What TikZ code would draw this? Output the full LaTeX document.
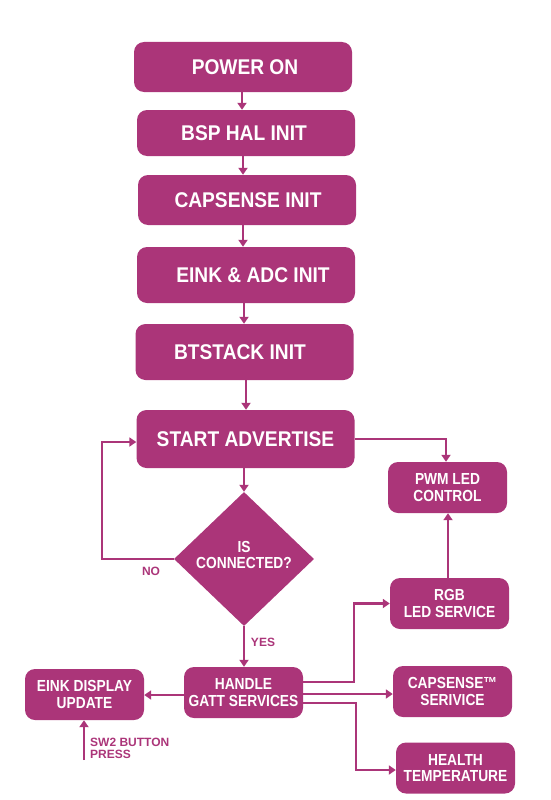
\documentclass[tikz,border=0pt]{standalone}
\usepackage{fontspec}
\setmainfont{Liberation Sans}
\newfontfamily\cfont{Liberation Sans}[FakeStretch=0.9]
\newfontfamily\sfont{Liberation Sans}[FakeStretch=0.86]
\usetikzlibrary{arrows.meta,shapes.geometric,calc}
\definecolor{mag}{RGB}{171,53,121}
\begin{document}
\begin{tikzpicture}[x=1pt,y=-1pt,
  big/.style={fill=mag, rounded corners=10pt, text=white, font=\cfont\bfseries\fontsize{21.3}{22}\selectfont, minimum width=218pt, inner sep=0pt},
  small/.style={fill=mag, rounded corners=10pt, text=white, font=\sfont\bfseries\fontsize{16}{16.5}\selectfont, align=center, minimum width=119pt, minimum height=51pt, inner sep=0pt},
  conn/.style={draw=mag, line width=2.1pt, -{Triangle[length=7pt,width=9pt]}},
  lbl/.style={text=mag, font=\bfseries\fontsize{12}{12}\selectfont}]
\useasboundingbox (0,0) rectangle (550,800);
% main column
\node[big, minimum height=50pt] (pwr) at (243,67) {\hspace*{4pt}POWER ON};
\node[big, minimum height=46pt] (bsp) at (246,133) {BSP HAL INIT\hspace*{4pt}};
\node[big, minimum height=50pt] (cap) at (247,200) {\hspace*{2pt}CAPSENSE INIT};
\node[big, minimum height=56pt] (eink) at (246,275) {\hspace*{14pt}EINK \& ADC INIT};
\node[big, minimum height=56pt] (bt) at (244.5,352) {BTSTACK INIT\hspace*{9pt}};
\node[big, minimum height=58pt] (adv) at (245.5,439) {START ADVERTISE};
\node[diamond, fill=mag, minimum width=140pt, minimum height=134pt, inner sep=0pt] (dec) at (244,559) {};
\node[text=white, font=\sfont\bfseries\fontsize{16}{16}\selectfont, align=center, inner sep=0pt] (dect) at (244,555) {IS\\CONNECTED?};
% side boxes
\node[small] (pwm) at (447.5,487.5) {PWM LED\\CONTROL};
\node[small] (rgb) at (449.5,603.5) {RGB\\LED SERVICE};
\node[small] (cs) at (452.5,691.5) {CAPSENSE™\\SERIVICE};
\node[small] (ht) at (455.5,768) {HEALTH\\TEMPERATURE};
\node[small] (hg) at (243.5,692.5) {HANDLE\\GATT SERVICES};
\node[small] (edu) at (84.5,694.5) {EINK DISPLAY\\UPDATE};
% labels
\node[lbl] (no) at (151,571) {NO};
\node[lbl] (yes) at (263,642) {YES};
\node[lbl, align=left, anchor=west, inner sep=0pt] (swl) at (90,748) {SW2 BUTTON\\PRESS};
% connectors
\draw[conn] (pwr.south -| 242,0) -- (bsp.north -| 242,0);
\draw[conn] (bsp.south -| 243,0) -- (cap.north -| 243,0);
\draw[conn] (cap.south -| 243,0) -- (eink.north -| 243,0);
\draw[conn] (eink.south -| 244,0) -- (bt.north -| 244,0);
\draw[conn] (bt.south -| 246,0) -- (adv.north -| 246,0);
\draw[conn] (adv.south -| 244,0) -- (dec.north);
\draw[conn] (dec.west) -- (102,559) |- (adv.west |- 0,442);
\draw[conn] (adv.east |- 0,439) -| (pwm.north -| 446,0);
\draw[conn] (rgb.north -| 448,0) -- (pwm.south -| 448,0);
\draw[conn] (dec.south) -- (dec.south |- hg.north);
\draw[conn] (hg.west |- 0,695) -- (edu.east |- 0,695);
\coordinate (sw) at (84,760);
\draw[conn] (sw) -- (sw |- edu.south);
\draw[conn] (hg.east |- 0,682) -- (354,682) |- (rgb.west);
\draw[conn] (hg.east |- 0,694) -- (cs.west |- 0,694);
\draw[conn] (hg.east |- 0,703) -- (356,703) |- (ht.west |- 0,770);
\end{tikzpicture}
\end{document}
